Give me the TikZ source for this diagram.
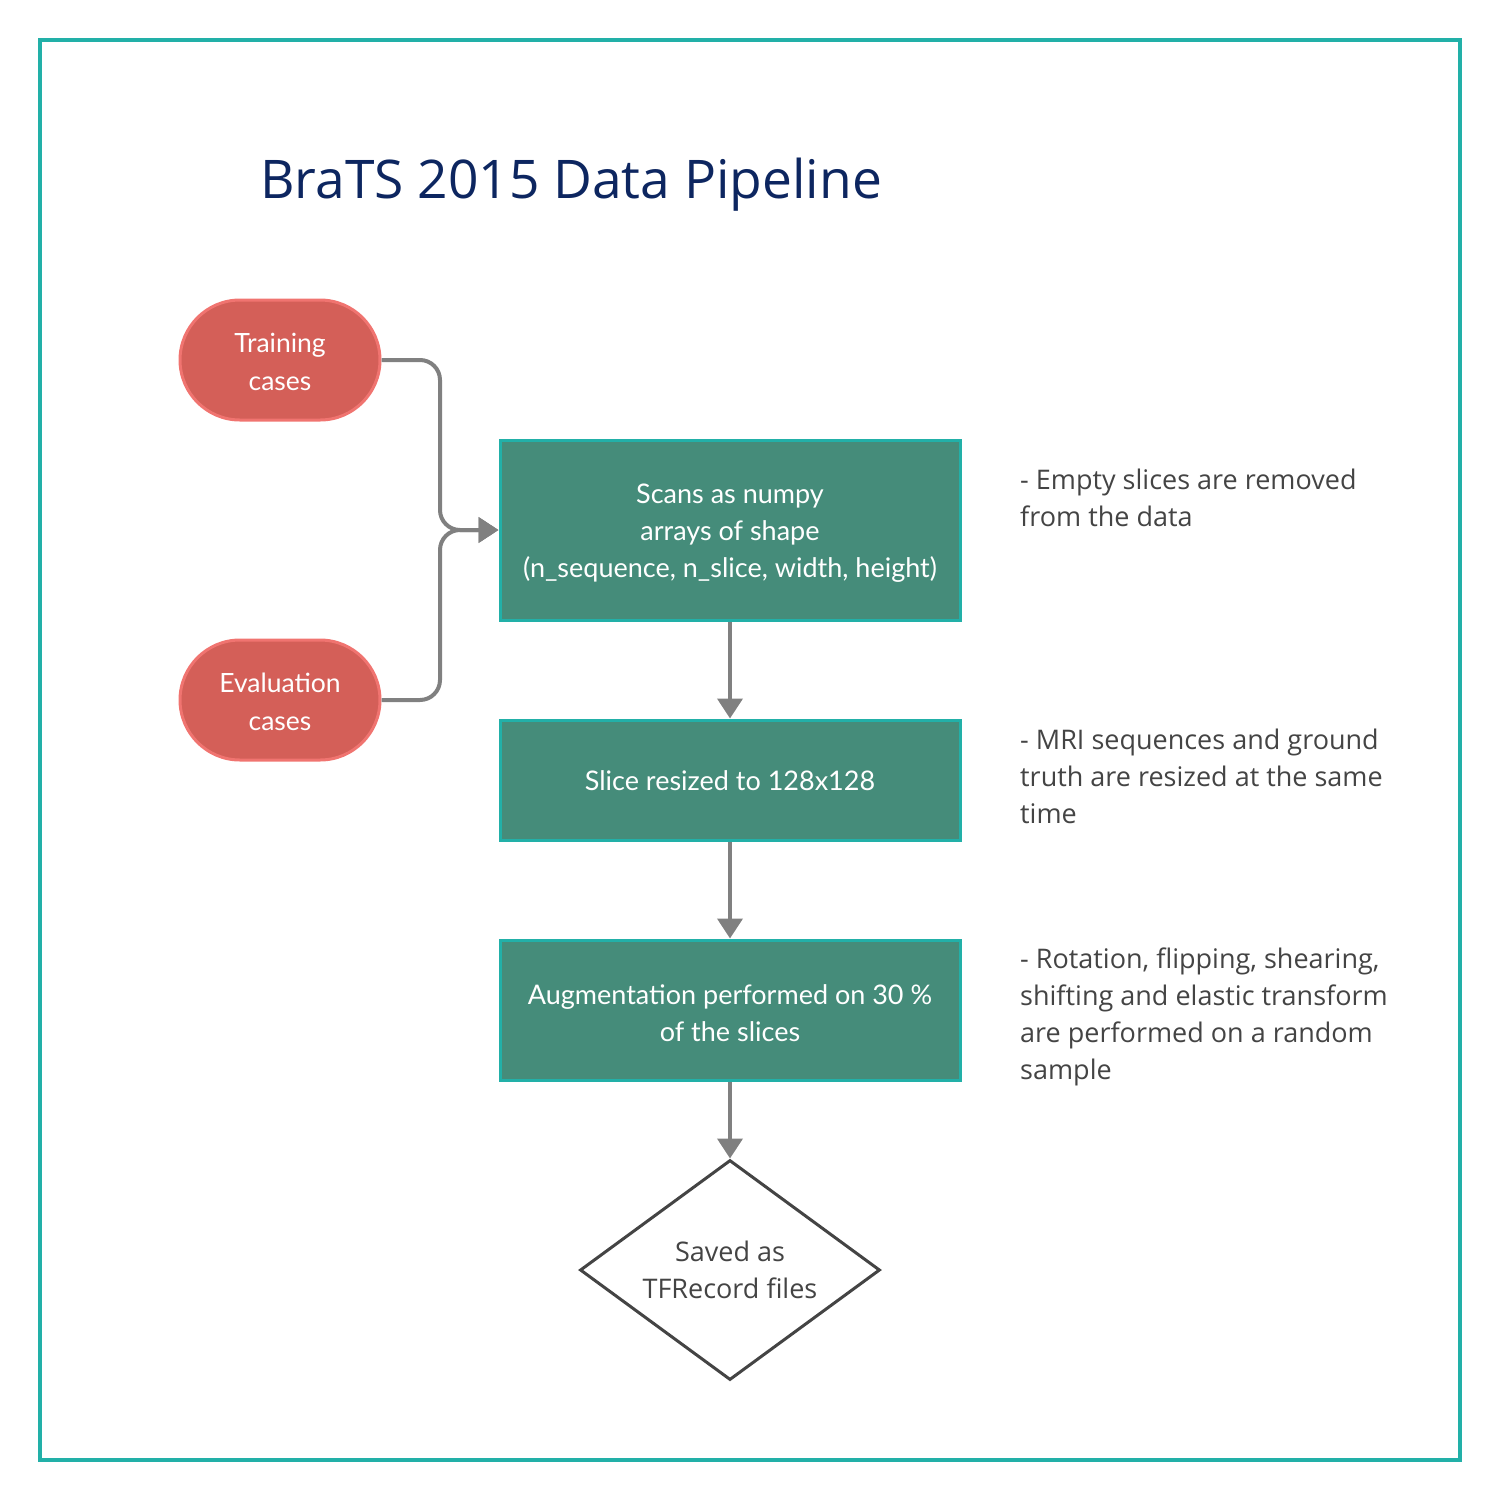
\documentclass[tikz,border=0pt]{standalone}
\usepackage{fontspec}
\setmainfont{Open Sans}
\newfontfamily\latofont{Lato}
\usetikzlibrary{arrows.meta,shapes.geometric}
\definecolor{frameteal}{HTML}{22B0A8}
\definecolor{boxfill}{HTML}{458C7A}
\definecolor{redfill}{HTML}{D45F58}
\definecolor{redborder}{HTML}{F07470}
\definecolor{arrowgray}{HTML}{808080}
\definecolor{titleblue}{HTML}{0D2660}
\definecolor{textgray}{HTML}{444444}
\tikzset{
  stadium/.style={draw=redborder, fill=redfill, line width=3pt, rounded corners=60pt,
    minimum width=200pt, minimum height=120pt, inner sep=0pt},
  procbox/.style={draw=frameteal, fill=boxfill, line width=3pt,
    minimum width=460pt, inner sep=0pt},
  endshape/.style={diamond, draw=textgray, line width=3pt, fill=white,
    minimum width=300pt, minimum height=220pt, inner sep=0pt},
  redtext/.style={align=center, text=white, inner sep=0pt,
    font=\latofont\fontsize{26.5}{38}\selectfont},
  boxtext/.style={align=center, text=white, inner sep=0pt,
    font=\latofont\fontsize{27}{37}\selectfont},
  endtext/.style={align=center, text=textgray, inner sep=0pt,
    font=\fontsize{27}{37}\selectfont},
  note/.style={anchor=north west, align=left, inner sep=0pt, text=textgray,
    font=\fontsize{27}{37}\selectfont},
  conn/.style={draw=arrowgray, line width=4pt, -{Triangle[length=20pt,width=25pt]}},
}
\begin{document}
\begin{tikzpicture}[x=1pt,y=-1pt]
\useasboundingbox (0,0) rectangle (1500,1500);
\draw[frameteal, line width=4pt] (40,40) rectangle (1460,1460);
\node[anchor=base west, inner sep=0pt, text=titleblue, font=\fontsize{53.3}{60}\selectfont] (title) at (260,198) {BraTS 2015 Data Pipeline};

\node[stadium] (train) at (280,360) {};
\node[redtext] (traint) at (280,362) {Training\\cases};
\node[stadium] (eval) at (280,700) {};
\node[redtext] (evalt) at (280,702) {Evaluation\\cases};

\node[procbox, minimum height=180pt] (scan) at (730,530) {};
\node[boxtext] (scant) at (730,533) {Scans as numpy\\arrays of shape\\(n\_sequence, n\_slice, width, height)};
\node[procbox, minimum height=120pt] (resize) at (730,780) {};
\node[boxtext] (resizet) at (730,781) {Slice resized to 128x128};
\node[procbox, minimum height=140pt] (aug) at (730,1010) {};
\node[boxtext] (augt) at (730,1013) {Augmentation performed on 30 \%\\of the slices};
\node[endshape] (save) at (730,1270) {};
\node[endtext] (savet) at (730,1270) {Saved as\\TFRecord files};

\coordinate (j) at (440,530);
\draw[conn, rounded corners=20pt] (train.east) -| (j) -- (scan.west);
\draw[conn, rounded corners=20pt] (eval.east) -| (j) -- (scan.west);
\draw[conn] (scan.south) -- (resize.north);
\draw[conn] (resize.south) -- (aug.north);
\draw[conn] (aug.south) -- (save.north);

\node[note] (n1) at (1020,469) {- Empty slices are removed\\from the data};
\node[note] (n2) at (1020,729) {- MRI sequences and ground\\truth are resized at the same\\time};
\node[note] (n3) at (1020,948) {- Rotation, flipping, shearing,\\shifting and elastic transform\\are performed on a random\\sample};
\end{tikzpicture}
\end{document}
